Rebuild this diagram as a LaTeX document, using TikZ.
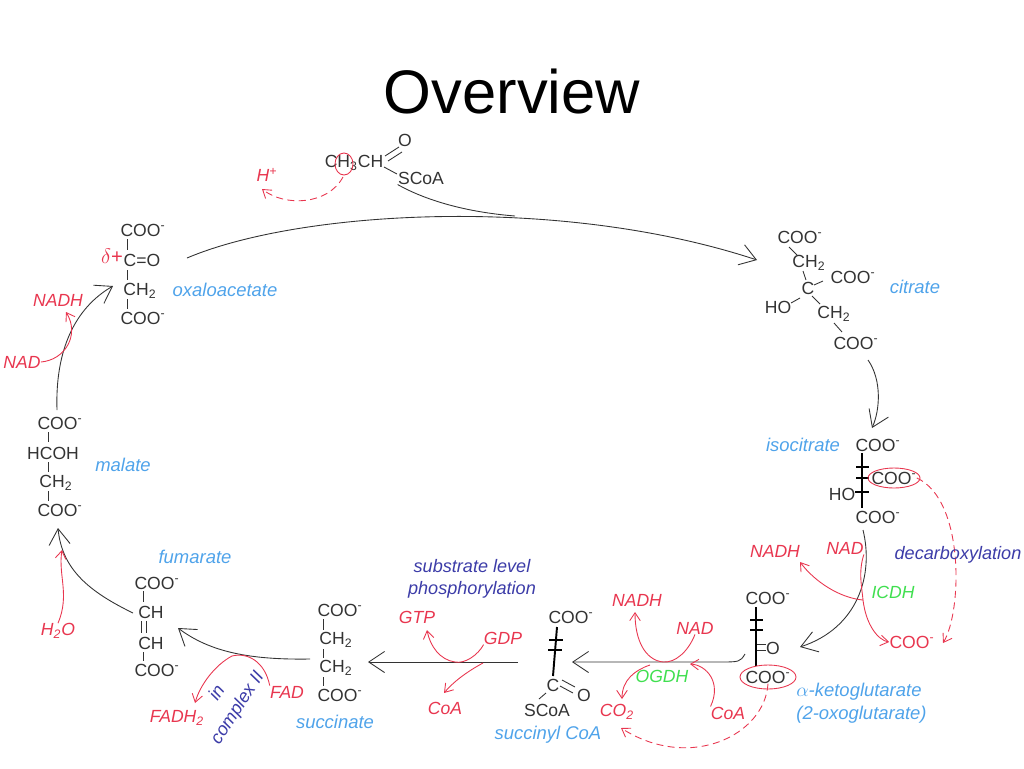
\documentclass[tikz,border=0pt]{standalone}
\usepackage{fontspec}
\setmainfont{Liberation Sans}
\usetikzlibrary{arrows.meta}
\definecolor{chemgray}{HTML}{333333}
\definecolor{cycred}{HTML}{E8364F}
\definecolor{nameblue}{HTML}{4FA3EA}
\definecolor{enzgreen}{HTML}{3FDF4F}
\definecolor{noteblue}{HTML}{3C3CA8}
\begin{document}
\begin{tikzpicture}
		[
			x = 0.02cm, y = -0.02cm,
			chem/.style = {inner sep = 0cm, text = chemgray, font = \fontsize{10}{12}\selectfont},
			compound/.style = {inner sep = 0cm, text = nameblue, font = \fontsize{10.5}{13}\selectfont\itshape},
			cofactor/.style = {inner sep = 0cm, text = cycred, font = \fontsize{10}{12}\selectfont\itshape},
			enzyme/.style = {inner sep = 0cm, text = enzgreen, font = \fontsize{10}{12}\selectfont\itshape},
			remark/.style = {inner sep = 0cm, text = noteblue, align = center, font = \fontsize{10.3}{12.5}\selectfont\itshape},
			bond/.style = {draw = chemgray, line width = 0.5pt},
			wedge/.style = {draw = black, line width = 1.1pt},
			rxn/.style = {draw = chemgray, line width = 0.5pt, -{Straight Barb[length = 9pt, width = 12pt]}},
			rxnline/.style = {draw = chemgray, line width = 0.5pt},
			redarrow/.style = {draw = cycred, line width = 0.5pt, -{Straight Barb[length = 4.5pt, width = 6pt]}},
			redline/.style = {draw = cycred, line width = 0.5pt},
			redloss/.style = {redarrow, dash pattern = on 4pt off 2.5pt},
			hilite/.style = {draw = cycred, line width = 0.5pt},
		]
			\useasboundingbox (0,0) rectangle (1024,768);
			%
			\node (title) [inner sep = 0cm, font = \fontsize{35}{40}\selectfont] at (512,92) {Overview};
			%
			% acetyl CoA
			\node (acCH) [chem] at (354,163) {CH\textsubscript{3}CH};
			\node (acO) [chem] at (405,140) {O};
			\node (acS) [chem] at (421,178) {SCoA};
			\node (hplus) [cofactor] at (267,175) {H\textsuperscript{+}};
			\draw [bond] (385,156) -- (399,147) (388,161) -- (402,152);
			\draw [bond] (384,167) -- (397,174);
			\coordinate (acH) at (344,164);
			\draw [hilite] (acH) ellipse [x radius = 9, y radius = 11];
			\draw [redloss] (343,177) .. controls (328,205) and (285,207) .. (262,189);
			%
			% oxaloacetate
			\node (oaa1) [chem] at (143,230) {COO\textsuperscript{-}};
			\node (oaa2) [chem] at (142,260) {C=O};
			\node (oaa3) [chem] at (140,291) {CH\textsubscript{2}};
			\node (oaa4) [chem] at (143,318) {COO\textsuperscript{-}};
			\draw [bond] (127,239) -- (127,250) (127,270) -- (127,280) (127,299) -- (127,309);
			\node (delta) [text = cycred, inner sep = 0cm, font = \fontsize{11.5}{13}\selectfont] at (112,256) {$\delta$+};
			\node (oaaname) [compound] at (225,290) {oxaloacetate};
			%
			% citrate
			\node (cit1) [chem] at (800,237) {COO\textsuperscript{-}};
			\node (cit2) [chem] at (809,263) {CH\textsubscript{2}};
			\node (cit3) [chem] at (808,288) {C};
			\node (cit4) [chem] at (853,277) {COO\textsuperscript{-}};
			\node (cit5) [chem] at (778,307) {HO};
			\node (cit6) [chem] at (834,314) {CH\textsubscript{2}};
			\node (cit7) [chem] at (856,343) {COO\textsuperscript{-}};
			\draw [bond] (789,247) -- (797,255) (803,271) -- (806,280) (814,285) -- (823,281);
			\draw [bond] (791,303) -- (800,298) (812,296) -- (820,304) (834,323) -- (842,332);
			\node (citname) [compound] at (915,287) {citrate};
			%
			% isocitrate
			\node (iso1) [chem] at (878,445) {COO\textsuperscript{-}};
			\node (iso2) [chem] at (894,478) {COO\textsuperscript{-}};
			\node (iso3) [chem] at (842,494) {HO};
			\node (iso4) [chem] at (878,517) {COO\textsuperscript{-}};
			\draw [wedge] (862,453) -- (862,508);
			\draw [wedge] (856,467) -- (869,467) (856,478) -- (869,478) (855,492) -- (869,492);
			\draw [hilite] (iso2) ellipse [x radius = 26, y radius = 10];
			\node (isoname) [compound] at (803,445) {isocitrate};
			%
			% alpha-ketoglutarate
			\node (akg1) [chem] at (768,598) {COO\textsuperscript{-}};
			\node (akg2) [chem] at (773,648) {O};
			\node (akg3) [chem] at (768,677) {COO\textsuperscript{-}};
			\draw [wedge] (756,607) -- (756,666);
			\draw [wedge] (750,620) -- (763,620) (750,630) -- (763,630);
			\draw [bond] (757,644) -- (766,644) (757,650) -- (766,650);
			\draw [hilite] (akg3) ellipse [x radius = 28, y radius = 12];
			\node (akgname) [compound, align = left, anchor = west] at (796,703) {$\alpha$-ketoglutarate\\(2-oxoglutarate)};
			%
			% succinyl CoA
			\node (scoa1) [chem] at (571,617) {COO\textsuperscript{-}};
			\node (scoa2) [chem] at (553,685) {C};
			\node (scoa3) [chem] at (584,695) {O};
			\node (scoa4) [chem] at (547,710) {SCoA};
			\draw [wedge] (557,627) -- (553,676);
			\draw [wedge] (549,640) -- (563,640) (548,650) -- (562,650);
			\draw [bond] (562,680) -- (575,687) (560,686) -- (573,693) (546,693) -- (539,699);
			\node (scoaname) [compound] at (548,735) {succinyl CoA};
			%
			% succinate
			\node (suc1) [chem] at (340,610) {COO\textsuperscript{-}};
			\node (suc2) [chem] at (336,640) {CH\textsubscript{2}};
			\node (suc3) [chem] at (336,668) {CH\textsubscript{2}};
			\node (suc4) [chem] at (340,695) {COO\textsuperscript{-}};
			\draw [bond] (323,619) -- (323,630) (323,649) -- (323,658) (323,677) -- (323,686);
			\node (sucname) [compound] at (335,722) {succinate};
			%
			% fumarate
			\node (fum1) [chem] at (157,583) {COO\textsuperscript{-}};
			\node (fum2) [chem] at (151,612) {CH};
			\node (fum3) [chem] at (151,643) {CH};
			\node (fum4) [chem] at (157,670) {COO\textsuperscript{-}};
			\draw [bond] (143,591) -- (143,602) (141,621) -- (141,633) (146,621) -- (146,633) (143,652) -- (143,661);
			\node (fumname) [compound] at (195,557) {fumarate};
			%
			% malate
			\node (mal1) [chem] at (60,423) {COO\textsuperscript{-}};
			\node (mal2) [chem] at (53,453) {HCOH};
			\node (mal3) [chem] at (56,483) {CH\textsubscript{2}};
			\node (mal4) [chem] at (60,510) {COO\textsuperscript{-}};
			\draw [bond] (48,432) -- (48,442) (48,462) -- (48,472) (48,491) -- (48,501);
			\node (malname) [compound] at (123,465) {malate};
			%
			% steps of the cycle
			\coordinate (oaaout) at (187,258);
			\coordinate (citin) at (757,260);
			\draw [rxn] (oaaout) .. controls (300,210) and (560,195) .. (citin);
			\draw [rxnline] (acS.south west) .. controls (425,200) and (465,212) .. (515,216);
			%
			\coordinate (citout) at (868,360);
			\coordinate (isoin) at (872,428);
			\draw [rxn] (citout) .. controls (882,380) and (880,410) .. (isoin);
			%
			\coordinate (isoout) at (863,530);
			\coordinate (akgin) at (800,647);
			\draw [rxn] (isoout) .. controls (874,575) and (858,628) .. (akgin);
			%
			\coordinate (akgout) at (745,654);
			\coordinate (scoain) at (572,662);
			\draw [rxn] (akgout) .. controls (740,662) .. (718,662) -- (scoain);
			%
			\coordinate (scoaout) at (518,662);
			\coordinate (sucin) at (368,662);
			\draw [rxn] (scoaout) -- (sucin);
			%
			\coordinate (sucout) at (310,659);
			\coordinate (fumin) at (178,628);
			\draw [rxn] (sucout) .. controls (250,660) and (210,652) .. (fumin);
			%
			\coordinate (fumout) at (133,613);
			\coordinate (malin) at (58,528);
			\draw [rxn] (fumout) .. controls (90,592) and (62,570) .. (malin);
			%
			\coordinate (malout) at (57,410);
			\coordinate (oaain) at (113,286);
			\draw [rxn] (malout) .. controls (55,350) and (75,308) .. (oaain);
			%
			% cofactors
			\node (nad1) [cofactor] at (22,362) {NAD};
			\node (nadh1) [cofactor] at (58,300) {NADH};
			\draw [redarrow] (nad1.east) .. controls (65,360) and (80,335) .. (66,312);
			%
			\node (water) [cofactor] at (58,631) {H\textsubscript{2}O};
			\draw [redarrow] (water.north) .. controls (70,595) and (58,575) .. (62,550);
			%
			\node (fad) [cofactor] at (287,692) {FAD};
			\node (fadh) [cofactor] at (177,718) {FADH\textsubscript{2}};
			\draw [redline] (fad.north west) .. controls (265,662) and (248,652) .. (232,656);
			\draw [redarrow] (232,656) .. controls (215,665) and (200,685) .. (195,703);
			\node (cplxin) [remark, rotate = 57] at (216,692) {in};
			\node (cplx) [remark, rotate = 57] at (238,708) {complex II};
			%
			\node (gtp) [cofactor] at (417,617) {GTP};
			\node (gdp) [cofactor] at (503,638) {GDP};
			\node (coa1) [cofactor] at (445,708) {CoA};
			\draw [redline] (gdp.south west) .. controls (478,655) and (465,664) .. (455,662);
			\draw [redarrow] (455,662) .. controls (440,660) and (430,646) .. (427,630);
			\draw [redarrow] (483,663) .. controls (470,670) and (455,680) .. (444,693);
			\node (slp) [remark] at (472,579) {substrate level\\phosphorylation};
			%
			\node (nad2) [cofactor] at (695,628) {NAD};
			\node (nadh2) [cofactor] at (637,600) {NADH};
			\node (coa2) [cofactor] at (728,713) {CoA};
			\node (co2) [cofactor] at (617,712) {CO\textsubscript{2}};
			\node (ogdh) [enzyme] at (662,676) {OGDH};
			\draw [redline] (nad2.south) .. controls (688,652) and (675,663) .. (663,662);
			\draw [redarrow] (663,662) .. controls (645,660) and (635,640) .. (635,612);
			\draw [redarrow] (coa2.north west) .. controls (722,682) and (706,665) .. (690,664);
			\draw [redarrow] (650,665) .. controls (635,670) and (622,680) .. (622,699);
			\draw [redloss] (akg3.south) .. controls (765,735) and (690,772) .. (621,728);
			%
			\node (nad3) [cofactor] at (845,548) {NAD};
			\node (nadh3) [cofactor] at (775,551) {NADH};
			\node (icdh) [enzyme] at (893,592) {ICDH};
			\node (coo) [cofactor, font = \fontsize{10}{12}\selectfont] at (912,642) {COO\textsuperscript{-}};
			\coordinate (icdhpt) at (863,600);
			\draw [redline] (nad3.south east) .. controls (858,572) and (862,588) .. (icdhpt);
			\draw [redarrow] (icdhpt) .. controls (840,598) and (815,582) .. (800,562);
			\draw [redarrow] (icdhpt) .. controls (866,625) and (878,640) .. (coo.west);
			\draw [redloss] (iso2.east) .. controls (965,500) and (962,612) .. (943,643);
			\node (decarb) [remark] at (958,555) {decarboxylation};
			%
		\end{tikzpicture}
\end{document}
